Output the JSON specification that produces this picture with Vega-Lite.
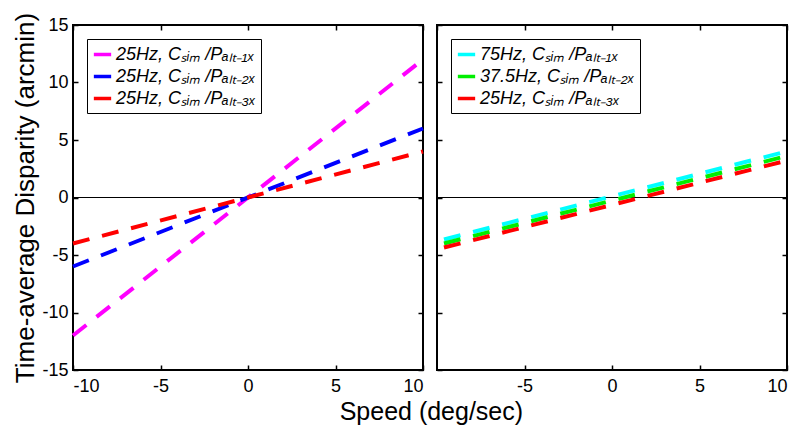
{
  "$schema": "https://vega.github.io/schema/vega-lite/v6.json",
  "background": "white",
  "padding": {"left": 11, "top": 11, "right": 14, "bottom": 0},
  "datasets": {
    "left": [
      {"series": "25Hz, Cₛᵢₘ /Pₐₗₜ₋₁ₓ", "speed": -10, "disparity": -12},
      {"series": "25Hz, Cₛᵢₘ /Pₐₗₜ₋₁ₓ", "speed": 10, "disparity": 12},
      {"series": "25Hz, Cₛᵢₘ /Pₐₗₜ₋₂ₓ", "speed": -10, "disparity": -6},
      {"series": "25Hz, Cₛᵢₘ /Pₐₗₜ₋₂ₓ", "speed": 10, "disparity": 6},
      {"series": "25Hz, Cₛᵢₘ /Pₐₗₜ₋₃ₓ", "speed": -10, "disparity": -4},
      {"series": "25Hz, Cₛᵢₘ /Pₐₗₜ₋₃ₓ", "speed": 10, "disparity": 4}
    ],
    "right": [
      {"series": "75Hz, Cₛᵢₘ /Pₐₗₜ₋₁ₓ", "speed": -9.6, "disparity": -3.65},
      {"series": "75Hz, Cₛᵢₘ /Pₐₗₜ₋₁ₓ", "speed": 9.7, "disparity": 3.9},
      {"series": "37.5Hz, Cₛᵢₘ /Pₐₗₜ₋₂ₓ", "speed": -9.6, "disparity": -4.0},
      {"series": "37.5Hz, Cₛᵢₘ /Pₐₗₜ₋₂ₓ", "speed": 9.7, "disparity": 3.5},
      {"series": "25Hz, Cₛᵢₘ /Pₐₗₜ₋₃ₓ", "speed": -9.6, "disparity": -4.35},
      {"series": "25Hz, Cₛᵢₘ /Pₐₗₜ₋₃ₓ", "speed": 9.7, "disparity": 3.1}
    ]
  },
  "title": {"text": "Speed (deg/sec)", "orient": "bottom", "anchor": "middle", "dx": 30, "fontSize": 25, "fontWeight": "normal", "font": "Liberation Sans", "color": "black", "offset": 4},
  "spacing": 3,
  "resolve": {"scale": {"color": "independent"}, "legend": {"color": "independent"}},
  "hconcat": [
    {
      "width": 350,
      "height": 345,
      "layer": [
        {
          "data": {"values": [{"zero": 0}]},
          "mark": {"type": "rule", "color": "black", "strokeWidth": 1},
          "encoding": {"y": {"field": "zero", "type": "quantitative", "axis": null}}
        },
        {
          "data": {"name": "left"},
          "mark": {"type": "line", "strokeWidth": 4, "strokeDash": [17, 13]},
          "encoding": {
            "x": {"field": "speed", "type": "quantitative", "scale": {"domain": [-10, 10], "nice": false}, "axis": {"orient": "bottom", "values": [-10, -5, 0, 5, 10], "title": null}},
            "y": {"field": "disparity", "type": "quantitative", "scale": {"domain": [-15, 15], "nice": false}, "axis": {"orient": "left", "values": [-15, -10, -5, 0, 5, 10, 15], "title": "Time-average Disparity (arcmin)"}},
            "color": {"field": "series", "type": "nominal", "sort": null,
              "scale": {"domain": ["25Hz, Cₛᵢₘ /Pₐₗₜ₋₁ₓ", "25Hz, Cₛᵢₘ /Pₐₗₜ₋₂ₓ", "25Hz, Cₛᵢₘ /Pₐₗₜ₋₃ₓ"], "range": ["#ff00ff", "#0000ff", "#ff0000"]},
              "legend": {"orient": "top-left", "title": null}}
          }
        },
        {
          "data": {"name": "left"},
          "mark": {"type": "line", "opacity": 0},
          "encoding": {
            "x": {"field": "speed", "type": "quantitative", "axis": {"orient": "top", "values": [-10, -5, 0, 5, 10], "labels": false, "title": null}},
            "y": {"field": "disparity", "type": "quantitative", "axis": {"orient": "right", "values": [-15, -10, -5, 0, 5, 10, 15], "labels": false, "title": null}},
            "detail": {"field": "series"}
          }
        }
      ],
      "resolve": {"axis": {"x": "independent", "y": "independent"}}
    },
    {
      "width": 350,
      "height": 345,
      "layer": [
        {
          "data": {"values": [{"zero": 0}]},
          "mark": {"type": "rule", "color": "black", "strokeWidth": 1},
          "encoding": {"y": {"field": "zero", "type": "quantitative", "axis": null}}
        },
        {
          "data": {"name": "right"},
          "mark": {"type": "line", "strokeWidth": 4, "strokeDash": [17, 13]},
          "encoding": {
            "x": {"field": "speed", "type": "quantitative", "scale": {"domain": [-10, 10], "nice": false}, "axis": {"orient": "bottom", "values": [-5, 0, 5, 10], "title": null}},
            "y": {"field": "disparity", "type": "quantitative", "scale": {"domain": [-15, 15], "nice": false}, "axis": {"orient": "left", "values": [-15, -10, -5, 0, 5, 10, 15], "labels": false, "title": null}},
            "color": {"field": "series", "type": "nominal", "sort": null,
              "scale": {"domain": ["75Hz, Cₛᵢₘ /Pₐₗₜ₋₁ₓ", "37.5Hz, Cₛᵢₘ /Pₐₗₜ₋₂ₓ", "25Hz, Cₛᵢₘ /Pₐₗₜ₋₃ₓ"], "range": ["#00ffff", "#00ee00", "#ff0000"]},
              "legend": {"orient": "top-left", "title": null}}
          }
        },
        {
          "data": {"name": "right"},
          "mark": {"type": "line", "opacity": 0},
          "encoding": {
            "x": {"field": "speed", "type": "quantitative", "axis": {"orient": "top", "values": [-10, -5, 0, 5, 10], "labels": false, "title": null}},
            "y": {"field": "disparity", "type": "quantitative", "axis": {"orient": "right", "values": [-15, -10, -5, 0, 5, 10, 15], "labels": false, "title": null}},
            "detail": {"field": "series"}
          }
        }
      ],
      "resolve": {"axis": {"x": "independent", "y": "independent"}}
    }
  ],
  "config": {
    "font": "Liberation Sans",
    "view": {"stroke": "black", "strokeWidth": 2},
    "axis": {
      "domain": false, "grid": false,
      "labelFont": "Liberation Sans", "labelFontSize": 18, "labelColor": "black",
      "labelExpr": "'' + datum.value",
      "tickColor": "black", "tickSize": -5, "tickWidth": 1.5,
      "titleFont": "Liberation Sans", "titleFontSize": 26, "titleFontWeight": "normal", "titleColor": "black", "titlePadding": 3
    },
    "axisX": {"labelPadding": 12},
    "axisY": {"labelPadding": 10},
    "legend": {
      "strokeColor": "black", "strokeWidth": 1, "fillColor": "white", "padding": 5, "offset": 14,
      "labelFont": "Liberation Sans", "labelFontSize": 18, "labelFontStyle": "italic", "labelColor": "black", "labelLimit": 400,
      "symbolType": "stroke", "symbolStrokeWidth": 3.5, "symbolSize": 300, "symbolDash": [1, 0],
      "rowPadding": 2, "labelOffset": 3, "cornerRadius": 0
    }
  }
}
